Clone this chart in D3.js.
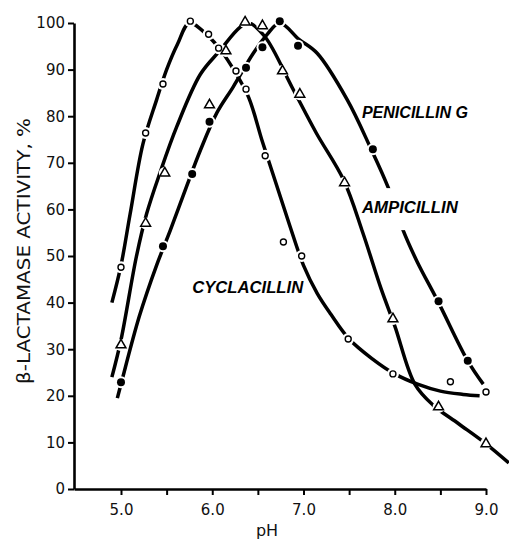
<!DOCTYPE html>
<html>
<head>
<meta charset="utf-8">
<script src="https://cdn.jsdelivr.net/npm/d3@7"></script>
<style>
  body { margin: 0; background: #fff; }
  svg { display: block; }
</style>
</head>
<body>
<svg id="chart" width="509" height="540" viewBox="0 0 509 540"></svg>
<script>
// measured points [pH, activity %]
const cyclacillinPts = [[5.0, 47.6], [5.27, 76.4], [5.46, 86.9], [5.76, 100.4], [5.96, 97.6], [6.07, 94.6],
  [6.26, 89.7], [6.37, 85.8], [6.58, 71.5], [6.78, 53], [6.98, 50], [7.49, 32.2], [7.98, 24.7], [8.61, 23], [9.0, 20.8]];
const ampicillinPts = [[5.0, 30.9], [5.27, 57], [5.48, 67.8], [5.97, 82.4], [6.15, 94], [6.36, 100.2], [6.55, 99.4],
  [6.77, 89.7], [6.96, 84.7], [7.45, 65.7], [7.98, 36.5], [8.48, 17.6], [9.0, 9.7]];
const penicillinPts = [[5.0, 22.9], [5.46, 52.1], [5.78, 67.6], [5.97, 78.8], [6.37, 90.4], [6.55, 94.8],
  [6.74, 100.4], [6.94, 95.1], [7.76, 72.9], [8.48, 40.3], [8.8, 27.5]];

// hand-drawn fitted curves
const cyclacillinFit = [[4.9, 40], [5.0, 48], [5.1, 59], [5.24, 74], [5.39, 83.5], [5.5, 90], [5.62, 95.5], [5.75, 100],
  [5.95, 97.3], [6.1, 94], [6.25, 89.5], [6.4, 84], [6.55, 74.5], [6.7, 65.5], [6.85, 56.5], [7.0, 48], [7.15, 42],
  [7.3, 37.5], [7.5, 32.2], [7.75, 28], [8.0, 24.7], [8.25, 22.5], [8.5, 21], [8.75, 20.3], [8.93, 20]];
const ampicillinFit = [[4.9, 24], [5.0, 32], [5.17, 50], [5.28, 59], [5.43, 68], [5.61, 77.7], [5.87, 89], [6.08, 94],
  [6.3, 99], [6.4, 100], [6.58, 97], [6.88, 86], [7.14, 76.4], [7.44, 66.3], [7.65, 55], [7.85, 43], [8.0, 35],
  [8.22, 22.5], [8.42, 18], [8.7, 14], [9.0, 9.7], [9.25, 5.6]];
const penicillinFit = [[4.96, 19.5], [5.0, 22.5], [5.2, 37], [5.39, 48], [5.54, 55.5], [5.72, 65], [5.87, 72.7],
  [6.05, 80.7], [6.23, 86.3], [6.45, 93.5], [6.6, 97.5], [6.74, 100], [6.95, 96.5], [7.15, 93.5], [7.48, 83.5],
  [7.73, 73.4], [7.93, 64.6], [8.09, 55.6], [8.24, 49], [8.48, 40], [8.8, 27.5], [8.97, 22.5]];

const yTicks = [0, 10, 20, 30, 40, 50, 60, 70, 80, 90, 100];
const xTicks = [5.0, 5.5, 6.0, 6.5, 7.0, 7.5, 8.0, 8.5, 9.0];
const xLabelTicks = [5.0, 6.0, 7.0, 8.0, 9.0];

// curve names, anchored at [pH, activity]
const curveLabels = [
  { name: "PENICILLIN G", at: [7.64, 79.6], len: 106 },
  { name: "AMPICILLIN", at: [7.64, 59.2], len: 96, knockout: true },
  { name: "CYCLACILLIN", at: [5.78, 42.1], len: 111 }
];

const svg = d3.select("#chart");

const x = d3.scaleLinear().domain([4.485, 9.0]).range([74, 486]);
const y = d3.scaleLinear().domain([0, 100]).range([489, 23]);

// axes
const yAxis = svg.append("g")
  .attr("transform", `translate(${x(4.485)},0)`)
  .call(d3.axisLeft(y).tickValues(yTicks).tickSize(6).tickSizeOuter(0).tickPadding(3));
const xAxis = svg.append("g")
  .attr("transform", `translate(0,${y(0)})`)
  .call(d3.axisBottom(x).tickValues(xTicks).tickSize(6).tickSizeOuter(0).tickPadding(9)
    .tickFormat(d => xLabelTicks.includes(d) ? d3.format(".1f")(d) : ""));

[yAxis, xAxis].forEach(ax => {
  ax.select(".domain").attr("stroke", "#000").attr("stroke-width", 2.6);
  ax.selectAll(".tick line").attr("stroke", "#000").attr("stroke-width", 2);
  ax.selectAll(".tick text")
    .attr("fill", "#111")
    .style("font-family", "'DejaVu Sans', sans-serif")
    .style("font-size", "15px");
});

svg.append("text")
  .attr("transform", `translate(30,${(118 + 384) / 2}) rotate(-90)`)
  .attr("text-anchor", "middle")
  .attr("textLength", 266)
  .attr("lengthAdjust", "spacingAndGlyphs")
  .style("font-family", "'DejaVu Sans', sans-serif")
  .style("font-size", "17px")
  .attr("fill", "#111")
  .text("β-LACTAMASE ACTIVITY, %");

svg.append("text")
  .attr("x", 267)
  .attr("y", 536)
  .attr("text-anchor", "middle")
  .style("font-family", "'DejaVu Sans', sans-serif")
  .style("font-size", "16px")
  .attr("fill", "#111")
  .text("pH");

// curves
const line = d3.line()
  .x(d => x(d[0]))
  .y(d => y(d[1]))
  .curve(d3.curveCatmullRom.alpha(0.5));

const plot = svg.append("g");
[cyclacillinFit, ampicillinFit, penicillinFit].forEach(fit => {
  plot.append("path")
    .datum(fit)
    .attr("d", line)
    .attr("fill", "none")
    .attr("stroke", "#000")
    .attr("stroke-width", 3.5);
});

// white knockouts behind markers, so lines break around them
const allPts = cyclacillinPts.concat(ampicillinPts, penicillinPts);
plot.selectAll(".halo")
  .data(allPts)
  .enter()
  .append("circle")
  .attr("cx", d => x(d[0]))
  .attr("cy", d => y(d[1]))
  .attr("r", 6)
  .attr("fill", "#fff");

plot.selectAll(".cyc")
  .data(cyclacillinPts)
  .enter()
  .append("circle")
  .attr("cx", d => x(d[0]))
  .attr("cy", d => y(d[1]))
  .attr("r", 3)
  .attr("fill", "#fff")
  .attr("stroke", "#000")
  .attr("stroke-width", 1.4);

plot.selectAll(".amp")
  .data(ampicillinPts)
  .enter()
  .append("path")
  .attr("transform", d => `translate(${x(d[0])},${y(d[1])})`)
  .attr("d", d3.symbol(d3.symbolTriangle, 42))
  .attr("fill", "#fff")
  .attr("stroke", "#000")
  .attr("stroke-width", 1.5);

plot.selectAll(".pen")
  .data(penicillinPts)
  .enter()
  .append("circle")
  .attr("cx", d => x(d[0]))
  .attr("cy", d => y(d[1]))
  .attr("r", 4)
  .attr("fill", "#000");

// curve labels
curveLabels.forEach(lab => {
  const lx = x(lab.at[0]);
  const ly = y(lab.at[1]);
  if (lab.knockout) {
    svg.append("rect")
      .attr("x", lx + 2)
      .attr("y", ly - 25)
      .attr("width", lab.len)
      .attr("height", 42)
      .attr("fill", "#fff");
  }
  svg.append("text")
    .attr("x", lx)
    .attr("y", ly)
    .attr("textLength", lab.len)
    .attr("lengthAdjust", "spacingAndGlyphs")
    .style("font-family", "'Liberation Sans', Arial, sans-serif")
    .style("font-size", "16px")
    .style("font-weight", "bold")
    .style("font-style", "italic")
    .attr("fill", "#000")
    .text(lab.name);
});
</script>
</body>
</html>
